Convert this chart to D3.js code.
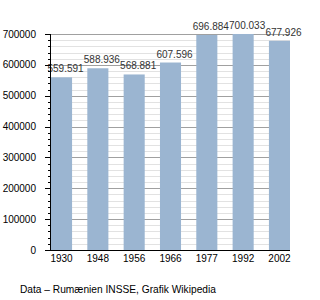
<!DOCTYPE html>
<html>
<head>
<meta charset="utf-8">
<script src="https://cdn.jsdelivr.net/npm/d3@7"></script>
<style>
  body { margin: 0; background: #fff; }
  text { font-family: "Liberation Sans", Arial, sans-serif; }
</style>
</head>
<body>
<div id="chart"></div>
<script>
const years = ["1930", "1948", "1956", "1966", "1977", "1992", "2002"];
const population = [559591, 588936, 568881, 607596, 696884, 700033, 677926];
const valueLabels = ["559.591", "588.936", "568.881", "607.596", "696.884", "700.033", "677.926"];
const majorTicks = [0, 100000, 200000, 300000, 400000, 500000, 600000, 700000];

const width = 320, height = 300;
const plotLeft = 50, plotRight = 290, plotTop = 34, plotBottom = 250;

const svg = d3.select("#chart").append("svg")
  .attr("width", width)
  .attr("height", height);

const x = d3.scaleBand().domain(years).range([plotLeft + 1, plotRight]).paddingInner(0.42).paddingOuter(0);
const y = d3.scaleLinear().domain([0, 700000]).range([plotBottom, plotTop]);

const minorTicks = d3.range(0, 700001, 20000).filter(v => v % 100000 !== 0);

// minor gridlines
svg.append("g").selectAll("line")
  .data(minorTicks)
  .enter().append("line")
  .attr("x1", plotLeft).attr("x2", plotRight)
  .attr("y1", d => Math.round(y(d)) + 0.5).attr("y2", d => Math.round(y(d)) + 0.5)
  .attr("stroke", "#e2e2e2");

// major gridlines
svg.append("g").selectAll("line")
  .data(majorTicks.slice(1))
  .enter().append("line")
  .attr("x1", plotLeft).attr("x2", plotRight)
  .attr("y1", d => Math.round(y(d)) + 0.5).attr("y2", d => Math.round(y(d)) + 0.5)
  .attr("stroke", "#a0a0a0");

// bars
svg.append("g").selectAll("rect")
  .data(population)
  .enter().append("rect")
  .attr("x", (d, i) => x(years[i]))
  .attr("width", x.bandwidth())
  .attr("y", d => y(d))
  .attr("height", d => plotBottom - y(d))
  .attr("fill", "#9bb5d1");

// value labels (sit a little right of bar centre, as in the original)
svg.append("g").selectAll("text")
  .data(population)
  .enter().append("text")
  .attr("x", (d, i) => x(years[i]) + x.bandwidth() / 2 + 4)
  .attr("y", d => y(d) - 5)
  .attr("text-anchor", "middle")
  .attr("font-size", 10)
  .attr("fill", "#333")
  .text((d, i) => valueLabels[i]);

// axes
svg.append("line")
  .attr("x1", plotLeft + 0.5).attr("x2", plotLeft + 0.5)
  .attr("y1", plotTop).attr("y2", plotBottom)
  .attr("stroke", "#000");
svg.append("line")
  .attr("x1", plotLeft).attr("x2", plotRight)
  .attr("y1", plotBottom + 0.5).attr("y2", plotBottom + 0.5)
  .attr("stroke", "#000");

svg.append("g").selectAll("line")
  .data(minorTicks)
  .enter().append("line")
  .attr("x1", plotLeft - 2).attr("x2", plotLeft)
  .attr("y1", d => Math.round(y(d)) + 0.5).attr("y2", d => Math.round(y(d)) + 0.5)
  .attr("stroke", "#000");

svg.append("g").selectAll("line")
  .data(majorTicks)
  .enter().append("line")
  .attr("x1", plotLeft - 5).attr("x2", plotLeft)
  .attr("y1", d => Math.round(y(d)) + 0.5).attr("y2", d => Math.round(y(d)) + 0.5)
  .attr("stroke", "#000");

svg.append("g").selectAll("text")
  .data(majorTicks)
  .enter().append("text")
  .attr("x", plotLeft - 14)
  .attr("y", d => y(d) + 3.5)
  .attr("text-anchor", "end")
  .attr("font-size", 10)
  .attr("fill", "#000")
  .text(d => d);

svg.append("g").selectAll("text")
  .data(years)
  .enter().append("text")
  .attr("x", d => x(d) + x.bandwidth() / 2)
  .attr("y", plotBottom + 12)
  .attr("text-anchor", "middle")
  .attr("font-size", 10)
  .attr("fill", "#000")
  .text(d => d);

svg.append("text")
  .attr("x", 20)
  .attr("y", 293)
  .attr("font-size", 10.2)
  .attr("fill", "#000")
  .text("Data – Rumænien INSSE, Grafik Wikipedia");
</script>
</body>
</html>
